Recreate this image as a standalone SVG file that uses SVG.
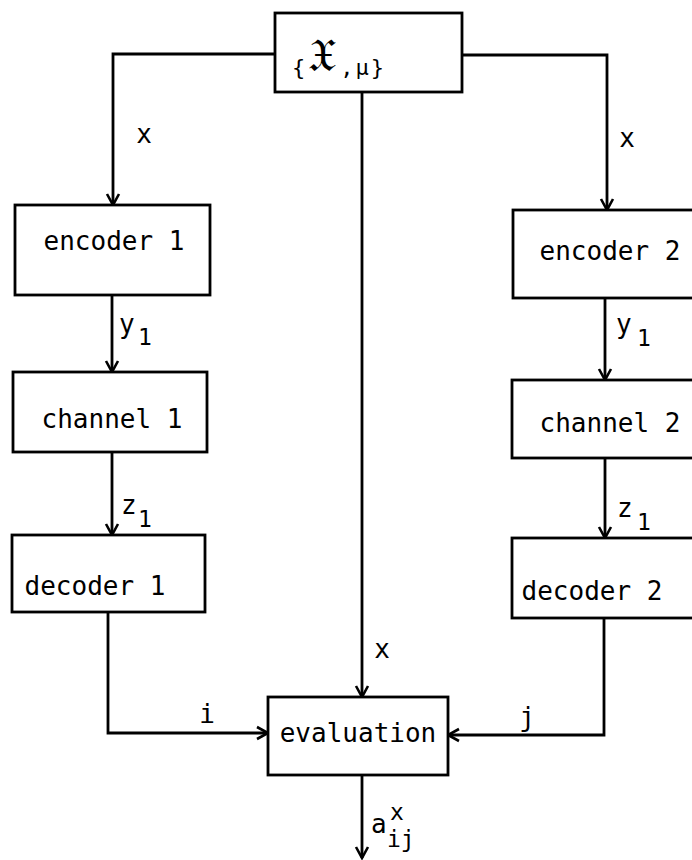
<svg xmlns="http://www.w3.org/2000/svg" width="692" height="860" viewBox="0 0 692 860">
<style>
  .box { fill: #fff; stroke: #000; stroke-width: 2.8; }
  .lbl { font-family: "DejaVu Sans Mono", "Liberation Mono", monospace; font-size: 26px; fill: #000; }
  .sub { font-family: "DejaVu Sans Mono", "Liberation Mono", monospace; font-size: 23px; fill: #000; }
  .conn { fill: none; stroke: #000; stroke-width: 2.8; }
</style>
<defs>
  <marker id="arr" markerUnits="userSpaceOnUse" markerWidth="16" markerHeight="16" viewBox="-12 -8 14 16" refX="0" refY="0" orient="auto">
    <path d="M-11,-6 L0,0 L-11,6" fill="none" stroke="#000" stroke-width="2.6"/>
  </marker>
</defs>
<rect width="692" height="860" fill="#fff"/>

<g id="connectors">
  <path class="conn" d="M275,54 H113 V205" marker-end="url(#arr)"/>
  <path class="conn" d="M462,55 H607 V210" marker-end="url(#arr)"/>
  <path class="conn" d="M362,92 V697" marker-end="url(#arr)"/>
  <path class="conn" d="M112,295 V372" marker-end="url(#arr)"/>
  <path class="conn" d="M112,452 V535" marker-end="url(#arr)"/>
  <path class="conn" d="M108,612 V733 H268" marker-end="url(#arr)"/>
  <path class="conn" d="M605,298 V380" marker-end="url(#arr)"/>
  <path class="conn" d="M605,458 V538" marker-end="url(#arr)"/>
  <path class="conn" d="M604,618 V735 H448" marker-end="url(#arr)"/>
  <path class="conn" d="M362,775 V858" marker-end="url(#arr)"/>
  <text class="lbl" x="144" y="143" text-anchor="middle">x</text>
  <text class="lbl" x="627" y="147" text-anchor="middle">x</text>
  <text class="lbl" x="382" y="658" text-anchor="middle">x</text>
  <text class="lbl" x="119" y="333">y</text><text class="sub" x="138" y="345">1</text>
  <text class="lbl" x="121" y="514">z</text><text class="sub" x="138" y="527">1</text>
  <text class="lbl" x="616" y="333">y</text><text class="sub" x="637" y="346">1</text>
  <text class="lbl" x="617" y="517">z</text><text class="sub" x="637" y="530">1</text>
  <text class="lbl" x="207" y="723" text-anchor="middle">i</text>
  <text class="lbl" x="527" y="726" text-anchor="middle">j</text>
  <text class="lbl" x="371" y="833">a</text>
  <text class="sub" x="390" y="820">x</text>
  <text class="sub" x="387" y="847">ij</text>
</g>

<g id="source">
  <rect class="box" x="275" y="13" width="187" height="79"/>
  <text x="292" y="75" font-family="DejaVu Sans Mono, monospace" font-size="22">{<tspan font-family="DejaVu Serif, 'DejaVu Sans', serif" font-size="46" dx="3" dy="-4">𝔛</tspan><tspan dx="4" dy="4">,</tspan><tspan dx="2">μ</tspan><tspan dx="2">}</tspan></text>
</g>

<g id="encoder1">
  <rect class="box" x="15" y="205" width="195" height="90"/>
  <text class="lbl" x="114" y="250" text-anchor="middle">encoder 1</text>
</g>
<g id="channel1">
  <rect class="box" x="13" y="372" width="194" height="80"/>
  <text class="lbl" x="112" y="428" text-anchor="middle">channel 1</text>
</g>
<g id="decoder1">
  <rect class="box" x="12" y="535" width="193" height="77"/>
  <text class="lbl" x="95" y="595" text-anchor="middle">decoder 1</text>
</g>

<g id="encoder2">
  <rect class="box" x="513" y="210" width="200" height="88"/>
  <text class="lbl" x="610" y="260" text-anchor="middle">encoder 2</text>
</g>
<g id="channel2">
  <rect class="box" x="512" y="380" width="200" height="78"/>
  <text class="lbl" x="610" y="432" text-anchor="middle">channel 2</text>
</g>
<g id="decoder2">
  <rect class="box" x="512" y="538" width="200" height="80"/>
  <text class="lbl" x="592" y="600" text-anchor="middle">decoder 2</text>
</g>

<g id="evaluation">
  <rect class="box" x="268" y="697" width="180" height="78"/>
  <text class="lbl" x="358" y="742" text-anchor="middle">evaluation</text>
</g>
</svg>
